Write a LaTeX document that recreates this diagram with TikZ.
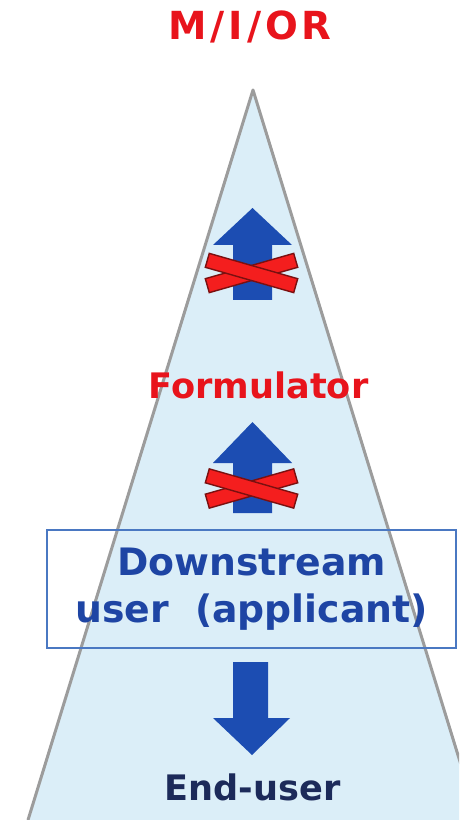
\documentclass[tikz,border=0pt]{standalone}
\usepackage{fontspec}
\setmainfont{DejaVu Sans}
\usetikzlibrary{positioning,calc}
\definecolor{conefill}{HTML}{DBEEF8}
\definecolor{coneline}{HTML}{9C9C9C}
\definecolor{alertred}{HTML}{E8141C}
\definecolor{crossred}{HTML}{F41E1E}
\definecolor{crossedge}{HTML}{7A1010}
\definecolor{flowblue}{HTML}{1C4DB2}
\definecolor{boxblue}{HTML}{4A78C2}
\definecolor{textblue}{HTML}{1E45A4}
\definecolor{navy}{HTML}{1C2A5A}

\begin{document}
\begin{tikzpicture}[x=0.02cm, y=-0.02cm,
  level/.style={font=\bfseries\fontsize{20}{24}\selectfont, inner sep=0pt, anchor=base},
  blockarrow/.style={fill=flowblue},
  crossbar/.style={rectangle, fill=crossred, draw=crossedge, line width=0.8pt, minimum width=1.84cm, minimum height=0.29cm, inner sep=0pt}]
\useasboundingbox (0,0) rectangle (459,820);

% the cone
\begin{scope}
\clip (0,0) rectangle (459,820);
\fill[conefill] (253,90) -- (28,820) -- (478,820) -- cycle;
\draw[coneline, line width=0.06cm, line join=round] (28,820) -- (253,90) -- (478,820);
\end{scope}

% levels
\node[level, text=alertred, font=\bfseries\fontsize{22}{26}\selectfont] (mior) at (250,40) {\addfontfeature{LetterSpace=10}M/I/OR};
\node[level, text=alertred] (form) at (258.5,398) {Formulator};
\node[draw=boxblue, line width=0.03cm, minimum width=8.18cm, minimum height=2.36cm, align=center, text=textblue, font=\bfseries\fontsize{21.5}{27}\selectfont, inner sep=0pt] (down) at (251.5,589) {Downstream\\user\ \ (applicant)};
\node[level, text=navy] (end) at (252.5,800) {End-user};

% blocked flows upwards
\foreach \tip/\base/\bot/\n in {208/245/300/1, 422/463/513/2} {
  \fill[blockarrow] (252.5,\tip) -- (292,\base) -- (272,\base) -- (272,\bot) -- (233,\bot) -- (233,\base) -- (213,\base) -- cycle;
  \node[crossbar, rotate=16] (xa\n) at (251.5,{(\base+\bot)/2+0.5}) {};
  \node[crossbar, rotate=-16] (xb\n) at (251.5,{(\base+\bot)/2+0.5}) {};
}

% flow down to the end-user
\fill[blockarrow] (233,662) -- (268,662) -- (268,718) -- (290,718) -- (252,755) -- (213,718) -- (233,718) -- cycle;
\end{tikzpicture}
\end{document}
